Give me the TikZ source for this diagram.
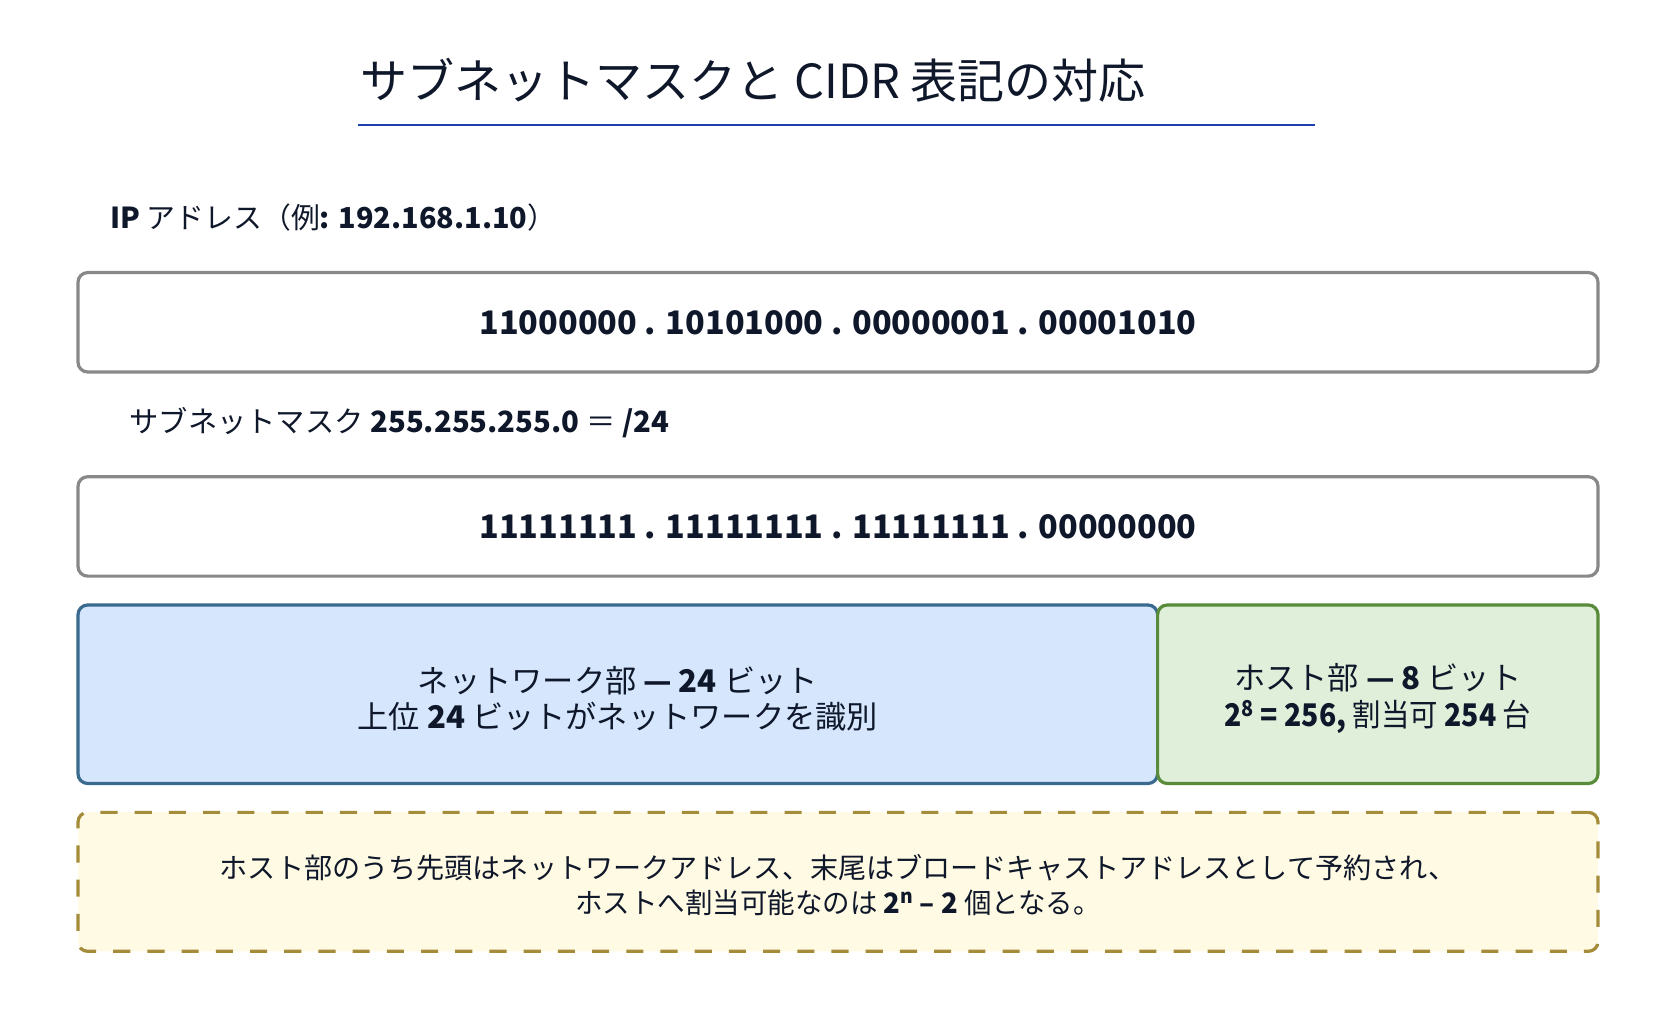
\documentclass[tikz,border=0pt]{standalone}
\usepackage{fontspec}
\usepackage{graphicx}
\setmainfont{Noto Sans CJK JP}
\definecolor{ink}{RGB}{15,23,42}
\definecolor{titleline}{RGB}{30,64,175}
\definecolor{graybd}{RGB}{136,136,136}
\definecolor{bluebd}{RGB}{58,106,142}
\definecolor{bluefill}{RGB}{214,231,253}
\definecolor{greenbd}{RGB}{90,139,58}
\definecolor{greenfill}{RGB}{223,239,217}
\definecolor{yelbd}{RGB}{165,140,58}
\definecolor{yelfill}{RGB}{255,250,227}
\begin{document}
\begin{tikzpicture}[x=1pt,y=-1pt,
  box/.style={draw, rounded corners=9pt, line width=3pt, inner sep=0pt},
  bitbox/.style={box, draw=graybd, fill=white, minimum width=1422pt, minimum height=93pt, text=ink, font=\fontsize{30.3}{36}\selectfont\bfseries},
  partbox/.style={box, minimum height=167pt},
  boxtext/.style={inner sep=0pt, align=center, text=ink},
  label/.style={anchor=base west, inner sep=0pt, text=ink}]
\useasboundingbox[fill=white] (0,0) rectangle (1568,963.6);
\node[label, font=\fontsize{44}{52}\selectfont] (title) at (337,92) {サブネットマスクと CIDR 表記の対応};
\coordinate (ulA) at (335,117);
\coordinate (ulB) at (1230,117);
\draw[titleline, line width=2pt] (ulA) -- (ulB);
\node[label, font=\fontsize{27}{32}\selectfont] (iplabel) at (103,214) {\textbf{IP} アドレス（例\textbf{: 192.168.1.10}）};
\node[bitbox] (ipbits) at (784,301.5) {11000000 . 10101000 . 00000001 . 00001010};
\node[label, font=\fontsize{27.4}{32}\selectfont] (masklabel) at (121,405) {サブネットマスク \textbf{255.255.255.0} ＝ \textbf{/24}};
\node[bitbox] (maskbits) at (784,492.5) {11111111 . 11111111 . 11111111 . 00000000};
\node[partbox, draw=bluebd, fill=bluefill, minimum width=1010pt] (net) at (578,649.5) {};
\node[partbox, draw=greenbd, fill=greenfill, minimum width=412pt] (host) at (1289,649.5) {};
\node[box, draw=yelbd, fill=yelfill, dash pattern=on 16pt off 16pt, minimum width=1422pt, minimum height=130pt] (note) at (784,825) {};
\node[boxtext, font=\fontsize{29.2}{34}\selectfont] (nettext) at ([yshift=-4pt]net.center) {ネットワーク部 \textbf{—} \textbf{24} ビット\\上位 \textbf{24} ビットがネットワークを識別};
\node[boxtext, font=\fontsize{29.2}{34}\selectfont] (hosttext) at ([yshift=-4pt]host.center) {ホスト部 \textbf{—} \textbf{8} ビット\\\scalebox{0.91}[1]{\textbf{2\textsuperscript{8} = 256,} 割当可 \textbf{254} 台}};
\node[boxtext, font=\fontsize{26.3}{32}\selectfont] (notetext) at ([yshift=-3pt]note.center) {ホスト部のうち先頭はネットワークアドレス、末尾はブロードキャストアドレスとして予約され、\\\scalebox{0.977}[1]{ホストへ割当可能なのは \textbf{2\textsuperscript{n} – 2} 個となる。}};
\end{tikzpicture}
\end{document}
